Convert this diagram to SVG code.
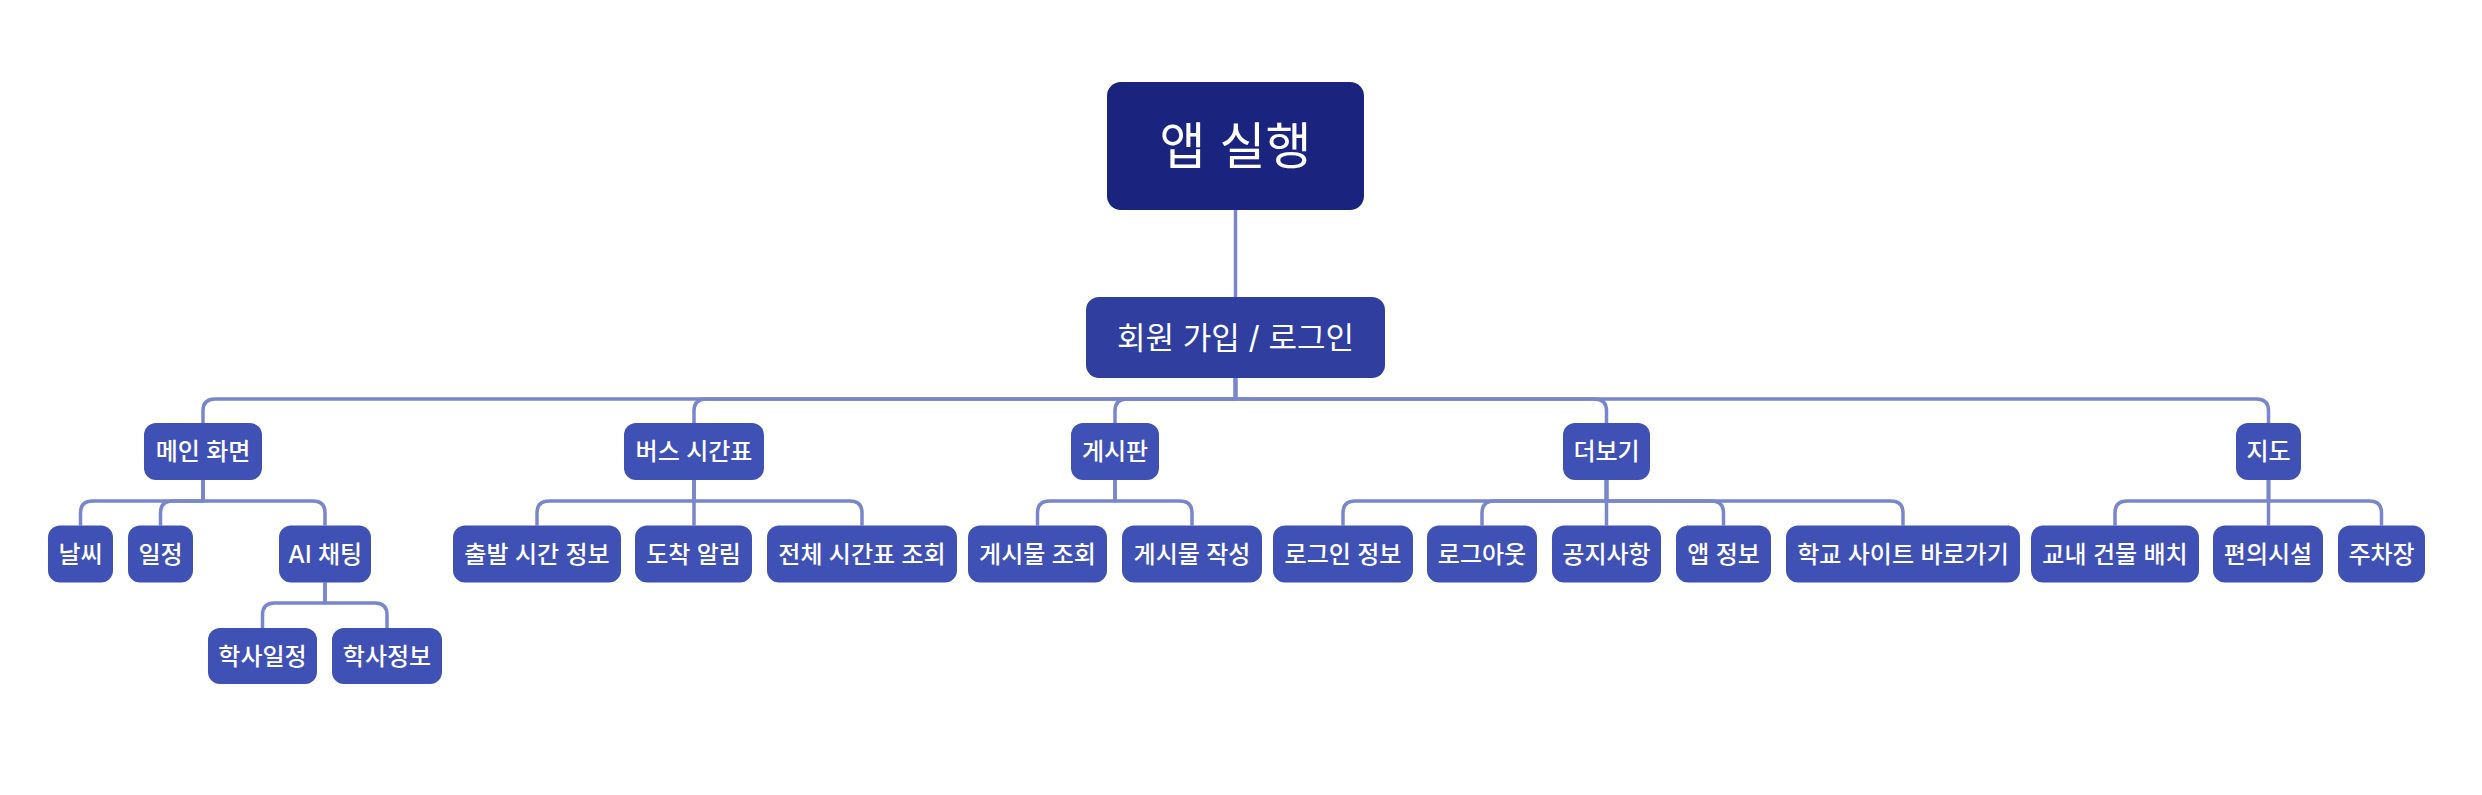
<svg xmlns="http://www.w3.org/2000/svg" width="2482" height="795" viewBox="0 0 2482 795">
<style>
.bg{fill:#ffffff}
.c path{fill:none;stroke:#7986cb;stroke-width:3.5;stroke-linejoin:round}
.n rect{fill:#3f51b5}
.n text{fill:#ffffff;font-family:"Inter","Noto Sans CJK KR",sans-serif;font-size:24px;font-weight:500;text-anchor:middle;dominant-baseline:central}
#root rect{fill:#1a237e}
#root text{font-size:50px;font-weight:400}
#login rect{fill:#303f9f}
#login text{font-size:31px;font-weight:400}
</style>
<rect class="bg" x="0" y="0" width="2482" height="795"/>
<g id="connectors" class="c">
<path d="M1235.5 210 V297"/>
<path d="M1235.5 378 V399 H215 Q203 399 203 411 V423"/>
<path d="M1235.5 378 V399 H706 Q694 399 694 411 V423"/>
<path d="M1235.5 378 V399 H1127 Q1115 399 1115 411 V423"/>
<path d="M1235.5 378 V399 H1594.5 Q1606.5 399 1606.5 411 V423"/>
<path d="M1235.5 378 V399 H2256.5 Q2268.5 399 2268.5 411 V423"/>
<path d="M203 480 V501 H92.5 Q80.5 501 80.5 513 V525.5"/>
<path d="M203 480 V501 H172.5 Q160.5 501 160.5 513 V525.5"/>
<path d="M203 480 V501 H313 Q325 501 325 513 V525.5"/>
<path d="M694 480 V501 H549 Q537 501 537 513 V525.5"/>
<path d="M694 480 V525.5"/>
<path d="M694 480 V501 H850 Q862 501 862 513 V525.5"/>
<path d="M1115 480 V501 H1049.5 Q1037.5 501 1037.5 513 V525.5"/>
<path d="M1115 480 V501 H1180 Q1192 501 1192 513 V525.5"/>
<path d="M1606.5 480 V501 H1355 Q1343 501 1343 513 V525.5"/>
<path d="M1606.5 480 V501 H1494 Q1482 501 1482 513 V525.5"/>
<path d="M1606.5 480 V525.5"/>
<path d="M1606.5 480 V501 H1711.5 Q1723.5 501 1723.5 513 V525.5"/>
<path d="M1606.5 480 V501 H1891 Q1903 501 1903 513 V525.5"/>
<path d="M2268.5 480 V501 H2127 Q2115 501 2115 513 V525.5"/>
<path d="M2268.5 480 V525.5"/>
<path d="M2268.5 480 V501 H2369.5 Q2381.5 501 2381.5 513 V525.5"/>
<path d="M325 582.5 V603 H274.5 Q262.5 603 262.5 615 V628"/>
<path d="M325 582.5 V603 H375 Q387 603 387 615 V628"/>
</g>
<g id="root" class="n"><rect x="1107" y="82" width="257" height="128" rx="14"/><text x="1235.5" y="146">앱 실행</text></g>
<g id="login" class="n"><rect x="1086" y="297" width="299" height="81" rx="13"/><text x="1235.5" y="337.5">회원 가입 / 로그인</text></g>
<g id="main" class="n"><rect x="144" y="423" width="118" height="57" rx="12"/><text x="203" y="451.5">메인 화면</text></g>
<g id="bus" class="n"><rect x="624" y="423" width="140" height="57" rx="12"/><text x="694" y="451.5">버스 시간표</text></g>
<g id="board" class="n"><rect x="1071" y="423" width="88" height="57" rx="12"/><text x="1115" y="451.5">게시판</text></g>
<g id="more" class="n"><rect x="1563" y="423" width="87" height="57" rx="12"/><text x="1606.5" y="451.5">더보기</text></g>
<g id="map" class="n"><rect x="2236" y="423" width="65" height="57" rx="12"/><text x="2268.5" y="451.5">지도</text></g>
<g id="weather" class="n"><rect x="48" y="525.5" width="65" height="57" rx="12"/><text x="80.5" y="554">날씨</text></g>
<g id="schedule" class="n"><rect x="128" y="525.5" width="65" height="57" rx="12"/><text x="160.5" y="554">일정</text></g>
<g id="ai" class="n"><rect x="279" y="525.5" width="92" height="57" rx="12"/><text x="325" y="554">AI 채팅</text></g>
<g id="depart" class="n"><rect x="453" y="525.5" width="168" height="57" rx="12"/><text x="537" y="554">출발 시간 정보</text></g>
<g id="arrive" class="n"><rect x="635" y="525.5" width="117" height="57" rx="12"/><text x="693.5" y="554">도착 알림</text></g>
<g id="fulltable" class="n"><rect x="767" y="525.5" width="190" height="57" rx="12"/><text x="862" y="554">전체 시간표 조회</text></g>
<g id="postview" class="n"><rect x="968" y="525.5" width="139" height="57" rx="12"/><text x="1037.5" y="554">게시물 조회</text></g>
<g id="postwrite" class="n"><rect x="1122" y="525.5" width="140" height="57" rx="12"/><text x="1192" y="554">게시물 작성</text></g>
<g id="logininfo" class="n"><rect x="1273" y="525.5" width="140" height="57" rx="12"/><text x="1343" y="554">로그인 정보</text></g>
<g id="logout" class="n"><rect x="1427" y="525.5" width="110" height="57" rx="12"/><text x="1482" y="554">로그아웃</text></g>
<g id="notice" class="n"><rect x="1552" y="525.5" width="109" height="57" rx="12"/><text x="1606.5" y="554">공지사항</text></g>
<g id="appinfo" class="n"><rect x="1676" y="525.5" width="95" height="57" rx="12"/><text x="1723.5" y="554">앱 정보</text></g>
<g id="school" class="n"><rect x="1786" y="525.5" width="234" height="57" rx="12"/><text x="1903" y="554">학교 사이트 바로가기</text></g>
<g id="building" class="n"><rect x="2031" y="525.5" width="168" height="57" rx="12"/><text x="2115" y="554">교내 건물 배치</text></g>
<g id="conv" class="n"><rect x="2213" y="525.5" width="110" height="57" rx="12"/><text x="2268" y="554">편의시설</text></g>
<g id="parking" class="n"><rect x="2338" y="525.5" width="87" height="57" rx="12"/><text x="2381.5" y="554">주차장</text></g>
<g id="acadsched" class="n"><rect x="208" y="628" width="109" height="56" rx="12"/><text x="262.5" y="656">학사일정</text></g>
<g id="acadinfo" class="n"><rect x="332" y="628" width="110" height="56" rx="12"/><text x="387" y="656">학사정보</text></g>
</svg>
